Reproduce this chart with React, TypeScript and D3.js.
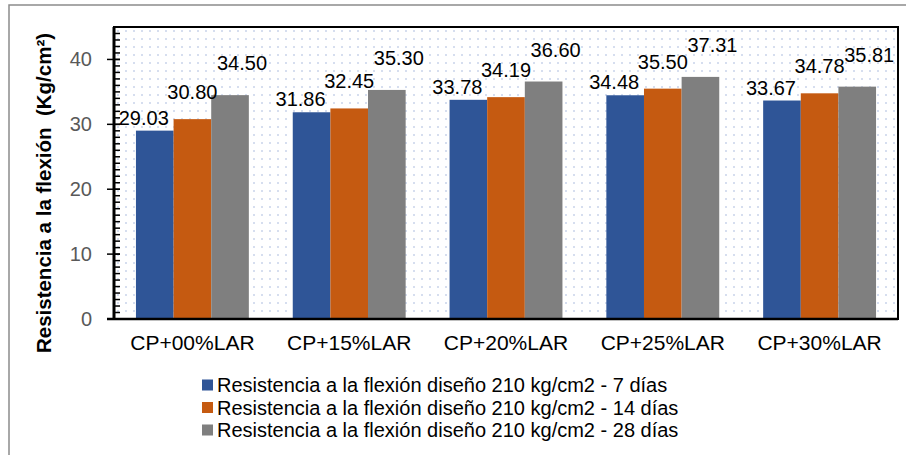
import React from "react";
import { scaleBand, scaleLinear, range } from "d3";

const categories = ["CP+00%LAR", "CP+15%LAR", "CP+20%LAR", "CP+25%LAR", "CP+30%LAR"];
const seriesNames = [
  "Resistencia a la flexión diseño 210 kg/cm2 - 7 días",
  "Resistencia a la flexión diseño 210 kg/cm2 - 14 días",
  "Resistencia a la flexión diseño 210 kg/cm2 - 28 días",
];
const dias7 = [29.03, 31.86, 33.78, 34.48, 33.67];
const dias14 = [30.8, 32.45, 34.19, 35.5, 34.78];
const dias28 = [34.5, 35.3, 36.6, 37.31, 35.81];
const yTicks = [0, 10, 20, 30, 40];

const seriesValues = [dias7, dias14, dias28];
const colors = ["#2f5597", "#c55a11", "#7f7f7f"];
// rough placement of the data labels, the excel ones are nudged by hand
const labelDx = [-11, 0, 12];
const labelDy = [13, 27, 32];

const W = 906;
const H = 455;
const plot = { left: 114, right: 898, top: 27, bottom: 319 };
const font = "'Liberation Sans', Arial, sans-serif";

export default function App(): JSX.Element {
  const x = scaleBand<string>()
    .domain(categories)
    .range([plot.left, plot.right])
    .paddingInner(0.28)
    .paddingOuter(0.14);

  const xs = scaleBand<number>()
    .domain(range(seriesValues.length))
    .range([0, x.bandwidth()]);

  const y = scaleLinear().domain([0, 45]).range([plot.bottom, plot.top]);

  return (
    <svg
      width={W}
      height={H}
      style={{ position: "absolute", left: 0, top: 0, background: "#fff" }}
      fontFamily={font}
    >
      <defs>
        <pattern id="dots" width={8} height={8} patternUnits="userSpaceOnUse" x={plot.left} y={plot.top}>
          <rect x={3} y={3} width={2} height={2} fill="#d6deef" />
        </pattern>
      </defs>

      {/* outer frame */}
      <rect x={9} y={5} width={1000} height={1000} fill="none" stroke="#8c8c8c" strokeWidth={1.5} />

      {/* plot area */}
      <rect
        x={plot.left}
        y={plot.top}
        width={plot.right - plot.left}
        height={plot.bottom - plot.top}
        fill="url(#dots)"
      />

      {/* bars */}
      {categories.map((c, i) => (
        <g key={c}>
          {seriesValues.map((vals, s) => (
            <rect
              key={s}
              x={(x(c) ?? 0) + (xs(s) ?? 0)}
              y={y(vals[i])}
              width={xs.bandwidth()}
              height={plot.bottom - y(vals[i])}
              fill={colors[s]}
            />
          ))}
        </g>
      ))}

      {/* plot border */}
      <rect
        x={plot.left}
        y={plot.top}
        width={plot.right - plot.left}
        height={plot.bottom - plot.top}
        fill="none"
        stroke="#000"
        strokeWidth={2}
      />

      {/* minor ticks */}
      {range(1, 45).map((v) => (
        <line key={`m${v}`} x1={plot.left} x2={plot.left + 6} y1={y(v)} y2={y(v)} stroke="#000" strokeWidth={1.5} />
      ))}
      <line x1={plot.left} x2={plot.left} y1={plot.top} y2={plot.bottom + 1} stroke="#000" strokeWidth={3} />
      <line x1={plot.left - 7} x2={plot.right} y1={plot.bottom} y2={plot.bottom} stroke="#000" strokeWidth={2.5} />

      {/* y axis */}
      {yTicks.map((t) => (
        <g key={t}>
          <line x1={plot.left - 7} x2={plot.left + 6} y1={y(t)} y2={y(t)} stroke="#000" strokeWidth={1.5} />
          <text x={92} y={y(t) + 7} textAnchor="end" fontSize={20} fill="#595959">
            {t}
          </text>
        </g>
      ))}

      {/* data labels */}
      {categories.map((c, i) =>
        seriesValues.map((vals, s) => (
          <text
            key={`${c}-${s}`}
            x={(x(c) ?? 0) + (xs(s) ?? 0) + xs.bandwidth() / 2 + labelDx[s]}
            y={y(vals[i]) - labelDy[s] + 7}
            textAnchor="middle"
            fontSize={20}
            fill="#000"
          >
            {vals[i].toFixed(2)}
          </text>
        ))
      )}

      {/* x labels */}
      {categories.map((c) => (
        <text
          key={c}
          x={(x(c) ?? 0) + x.bandwidth() / 2}
          y={350}
          textAnchor="middle"
          fontSize={21}
          fill="#000"
        >
          {c}
        </text>
      ))}

      {/* y title */}
      <text
        transform="translate(51,193) rotate(-90)"
        textAnchor="middle"
        fontSize={20.5}
        fontWeight="bold"
        fill="#000"
        style={{ whiteSpace: "pre" }}
      >
        Resistencia a la flexión  (Kg/cm²)
      </text>

      {/* legend */}
      {seriesNames.map((name, s) => (
        <g key={name} transform={`translate(202, ${385 + s * 22.5})`}>
          <rect x={0} y={-5.5} width={11} height={11} fill={colors[s]} />
          <text x={15} y={7} fontSize={20} fill="#000">
            {name}
          </text>
        </g>
      ))}
    </svg>
  );
}
